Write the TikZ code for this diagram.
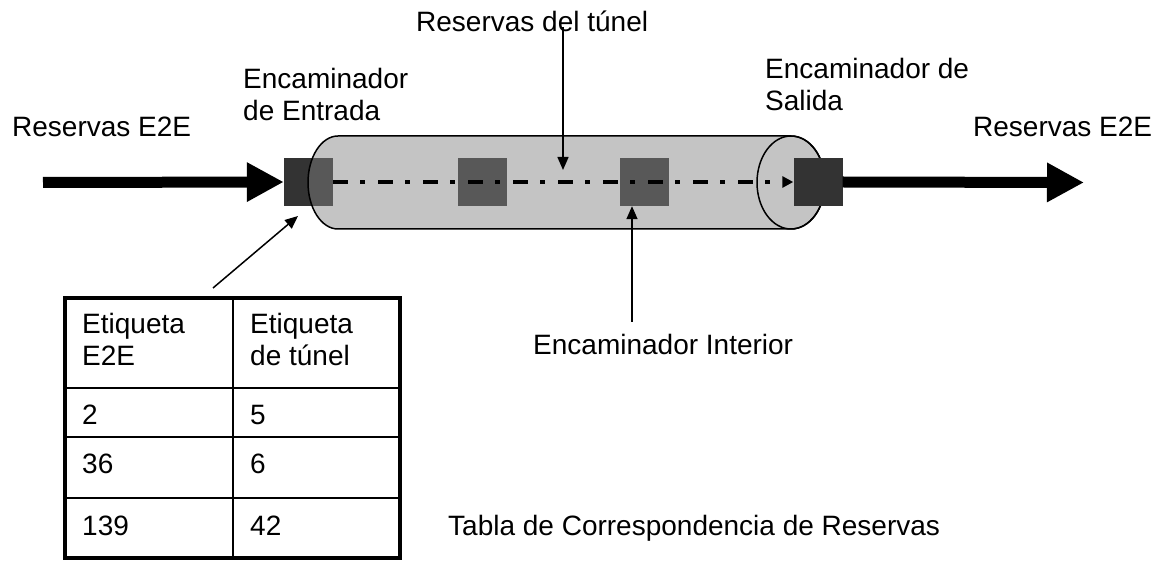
\documentclass[tikz,border=0pt]{standalone}
\usepackage{fontspec}
\setmainfont{Liberation Sans}
\usetikzlibrary{arrows.meta}
\definecolor{boxdark}{HTML}{333333}
\definecolor{tunnelgray}{HTML}{828282}
\begin{document}
\begin{tikzpicture}[x=1pt,y=-1pt,
  lbl/.style={font=\fontsize{28}{32}\selectfont, inner sep=0pt, anchor=base west, align=left},
  router/.style={draw=none, fill=boxdark, minimum width=49pt, minimum height=48pt, inner sep=0pt},
  thinarrow/.style={line width=1.5pt, -{Triangle[length=13pt,width=11pt]}},
  bigarrow/.style={line width=11pt, -{Triangle[length=37pt,width=37pt]}},
  path/.style={line width=4pt, dash pattern=on 15pt off 12pt on 5pt off 13pt, -{Triangle[length=11pt,width=11pt]}},
  tunnel/.style={fill=tunnelgray, fill opacity=0.47, draw=black, line width=1.5pt},
  frame/.style={line width=4.5pt},
  grid/.style={line width=1.5pt}
]
\useasboundingbox (0,0) rectangle (1163,561);

% routers inside / under the tunnel
\node[router] (entry) at (308.5,182) {};
\node[router] (int1) at (482.5,182) {};
\node[router] (int2) at (644,182) {};

% tunnel body
\draw[tunnel] (338,136) -- (791,136)
  arc[start angle=-90, end angle=90, x radius=34, y radius=46.5]
  -- (338,229)
  arc[start angle=90, end angle=270, x radius=30, y radius=46.5] -- cycle;
\draw[line width=1.5pt] (791,182.5) ellipse [x radius=34, y radius=46.5];

% exit router
\node[router] (exit) at (818,182) {};

% tunnel path
\draw[path] (entry.east) -- (exit.west);

% big arrows
\coordinate (inStart) at (43,182.5);
\coordinate (outEnd) at (1084,182.5);
\draw[bigarrow] (inStart) -- (entry.west);
\draw[bigarrow] (exit.east) -- (outEnd);

% labels (multi-line nodes: base = last line)
\node[lbl] (resL) at (12,137) {Reservas E2E};
\node[lbl] (resR) at (973,137) {Reservas E2E};
\node[lbl] (entL) at (243,121) {Encaminador\\de Entrada};
\node[lbl] (salL) at (765,111) {Encaminador de\\Salida};
\node[lbl] (tunL) at (416,32) {Reservas del túnel};
\node[lbl] (intL) at (533,355) {Encaminador Interior};
\node[lbl] (tabL) at (448,535) {Tabla de Correspondencia de Reservas};

% thin arrows
\coordinate (tunA) at (563,27);
\coordinate (tunB) at (563,170);
\draw[thinarrow] (tunA) -- (tunB);
\coordinate (intA) at (632,322);
\draw[thinarrow] (intA) -- (int2.south -| intA);
\coordinate (tabA) at (213,288);
\coordinate (tabB) at (298,216);
\draw[thinarrow] (tabA) -- (tabB);

% table
\draw[grid] (233,298) -- (233,558);
\draw[grid] (65,388) -- (400,388);
\draw[grid] (65,437) -- (400,437);
\draw[grid] (65,498) -- (400,498);
\draw[frame] (65,298) rectangle (400,558);
\node[lbl] (h1) at (82,366) {Etiqueta\\E2E};
\node[lbl] (h2) at (250,366) {Etiqueta\\de túnel};
\node[lbl] (a1) at (82,425) {2};
\node[lbl] (b1) at (250,425) {5};
\node[lbl] (a2) at (82,474) {36};
\node[lbl] (b2) at (250,474) {6};
\node[lbl] (a3) at (82,535) {139};
\node[lbl] (b3) at (250,535) {42};
\end{tikzpicture}
\end{document}
